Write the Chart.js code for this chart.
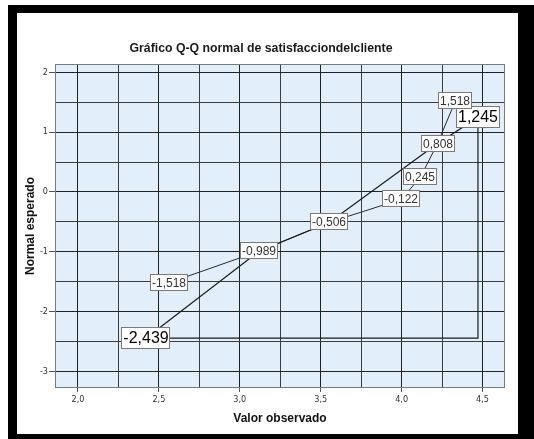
<!DOCTYPE html>
<html>
<head>
<meta charset="utf-8">
<script src="https://cdn.jsdelivr.net/npm/chart.js@4"></script>
<style>
  html, body { margin: 0; padding: 0; background: #fff; overflow: hidden; }
  body { width: 534px; height: 439px; position: relative; }
  #marco { position: absolute; left: 8px; top: 5px; width: 501px; height: 421px;
           border-style: solid; border-color: #000; border-width: 8px 20px 8px 9px; }
  #grafico { position: absolute; left: 0; top: 0; }
</style>
</head>
<body>
<div id="marco"></div>
<canvas id="grafico" width="534" height="439"></canvas>
<script>
// valores observados (x) y normal esperado (y) de cada punto etiquetado
var observado = [2.422, 2.561, 3.119, 3.554, 3.998, 4.116, 4.222, 4.472, 4.332];
var esperado = [-2.439, -1.518, -0.989, -0.506, -0.122, 0.245, 0.808, 1.245, 1.518];
// etiquetas con letra grande
var destacado = [true, false, false, false, false, false, false, true, false];

// trazo A: cada vertice toma x de un punto e y de otro [ix, iy]
var trazoA = [[0, 0], [2, 2], [3, 3], [6, 6], [7, 7], [7, 0], [0, 0]];
// trazo B: indices de puntos
var trazoB = [1, 2, 3, 4, 5, 6, 8];

// marcas de los ejes
var ticksX = [2.0, 2.5, 3.0, 3.5, 4.0, 4.5];
var ticksY = [-3, -2, -1, 0, 1, 2];

function coma(v, dec) {
    return v.toFixed(dec).replace('.', ',');
}
function esMarca(lista, v) {
    return lista.some(function (t) { return Math.abs(t - v) < 1e-6; });
}

var datosA = trazoA.map(function (p) { return { x: observado[p[0]], y: esperado[p[1]] }; });
var datosB = trazoB.map(function (i) { return { x: observado[i], y: esperado[i] }; });

// fondo azul del area de trazado y borde
var fondo = {
    id: 'fondo',
    beforeDraw: function (chart) {
        var a = chart.chartArea, ctx = chart.ctx;
        ctx.save();
        ctx.fillStyle = '#e2eefa';
        ctx.fillRect(a.left, a.top, a.right - a.left, a.bottom - a.top);
        ctx.restore();
    },
    beforeDatasetsDraw: function (chart) {
        var a = chart.chartArea, ctx = chart.ctx;
        ctx.save();
        ctx.strokeStyle = '#7a7a7a';
        ctx.lineWidth = 1;
        ctx.strokeRect(a.left + 0.5, a.top + 0.5, a.right - a.left - 1, a.bottom - a.top - 1);
        ctx.restore();
    }
};

// cajas con el valor esperado
var etiquetas = {
    id: 'etiquetas',
    afterDatasetsDraw: function (chart) {
        var ctx = chart.ctx, sx = chart.scales.x, sy = chart.scales.y;
        ctx.save();
        for (var i = 0; i < observado.length; i++) {
            var px = Math.round(sx.getPixelForValue(observado[i]));
            var py = Math.round(sy.getPixelForValue(esperado[i]));
            var grande = destacado[i];
            var size = grande ? 16 : 12;
            ctx.font = size + 'px "Liberation Sans", Arial, sans-serif';
            var txt = coma(esperado[i], 3);
            var w = Math.round(ctx.measureText(txt).width) + 4;
            var h = grande ? 22 : 17;
            var x0 = px - Math.round(w / 2), y0 = py - Math.round(h / 2);
            ctx.fillStyle = '#fff';
            ctx.fillRect(x0, y0, w, h);
            ctx.strokeStyle = '#7a7a7a';
            ctx.lineWidth = 1;
            ctx.strokeRect(x0 + 0.5, y0 + 0.5, w - 1, h - 1);
            ctx.fillStyle = grande ? '#000' : '#333';
            ctx.textAlign = 'center';
            ctx.textBaseline = 'middle';
            ctx.fillText(txt, px, py + 1);
        }
        ctx.restore();
    }
};

var chart = new Chart(document.getElementById('grafico'), {
    type: 'scatter',
    data: {
        datasets: [{
            data: datosA,
            showLine: true,
            borderColor: '#1a1a1a',
            borderWidth: 1.2,
            pointRadius: 0,
            tension: 0
        }, {
            data: datosB,
            showLine: true,
            borderColor: '#2a2a2a',
            borderWidth: 1,
            pointRadius: 0,
            tension: 0
        }]
    },
    options: {
        responsive: false,
        animation: false,
        devicePixelRatio: 1,
        layout: { padding: { left: 17, right: 29, top: 13, bottom: 5 } },
        plugins: {
            legend: { display: false },
            tooltip: { enabled: false },
            title: {
                display: true,
                text: 'Gráfico Q-Q normal de satisfacciondelcliente',
                color: '#1a1a1a',
                font: { family: '"Liberation Sans", Arial, sans-serif', size: 12.3, weight: 'bold', lineHeight: '15px' },
                padding: { top: 28, bottom: 8 }
            }
        },
        scales: {
            x: {
                type: 'linear',
                position: 'bottom',
                min: 1.858,
                max: 4.639,
                afterFit: function (s) { s.height = 46; },
                border: { display: false },
                grid: {
                    color: function (c) { return esMarca(ticksX, c.tick.value) ? '#222' : '#3c3c3c'; },
                    tickColor: function (c) { return esMarca(ticksX, c.tick.value) ? '#555' : 'rgba(0,0,0,0)'; },
                    tickLength: 4,
                    lineWidth: 1
                },
                ticks: {
                    stepSize: 0.25,
                    includeBounds: false,
                    autoSkip: false,
                    maxRotation: 0,
                    padding: 2,
                    color: '#333',
                    font: { family: '"DejaVu Sans Condensed", "DejaVu Sans", sans-serif', size: 9 },
                    callback: function (v) { return esMarca(ticksX, v) ? coma(v, 1) : ''; }
                },
                title: {
                    display: true,
                    text: 'Valor observado',
                    color: '#111',
                    font: { family: '"Liberation Sans", Arial, sans-serif', size: 12, weight: 'bold' },
                    padding: { top: 0, bottom: 8 }
                }
            },
            y: {
                type: 'linear',
                position: 'left',
                min: -3.273,
                max: 2.137,
                afterFit: function (s) { s.width = 38; },
                border: { display: false },
                grid: {
                    color: function (c) { return esMarca(ticksY, c.tick.value) ? '#222' : '#3c3c3c'; },
                    tickColor: function (c) { return esMarca(ticksY, c.tick.value) ? '#555' : 'rgba(0,0,0,0)'; },
                    tickLength: 6,
                    lineWidth: 1
                },
                ticks: {
                    stepSize: 0.5,
                    includeBounds: false,
                    autoSkip: false,
                    padding: 1,
                    color: '#333',
                    font: { family: '"DejaVu Sans Condensed", "DejaVu Sans", sans-serif', size: 9 },
                    callback: function (v) { return esMarca(ticksY, v) ? String(v) : ''; }
                },
                title: {
                    display: true,
                    text: 'Normal esperado',
                    color: '#111',
                    font: { family: '"Liberation Sans", Arial, sans-serif', size: 12, weight: 'bold' },
                    padding: { top: 6, bottom: 0 }
                }
            }
        }
    },
    plugins: [fondo, etiquetas]
});
</script>
</body>
</html>
